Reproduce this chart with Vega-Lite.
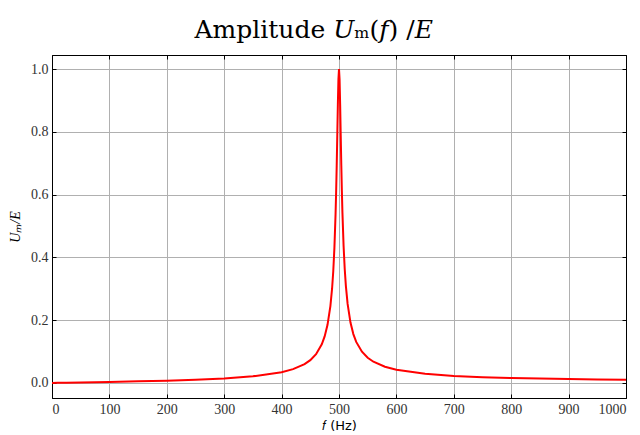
{
  "$schema": "https://vega.github.io/schema/vega-lite/v6.json",
  "autosize": {"type": "none"},
  "width": 574,
  "height": 343,
  "padding": {"left": 52, "top": 55, "right": 14, "bottom": 37},
  "background": "white",
  "title": {"text": "Amplitude 𝑈ₘ(𝑓) /𝐸", "font": "DejaVu Serif", "fontSize": 25, "fontWeight": "normal", "color": "black", "offset": 12, "anchor": "start", "dx": 186},
  "config": {
    "view": {"stroke": "black", "strokeWidth": 1},
    "axis": {"labelFont": "Liberation Serif", "labelFontSize": 14, "labelColor": "#333", "titleFont": "Liberation Serif", "titleFontWeight": "normal", "titleFontSize": 14, "titleColor": "black", "gridColor": "#b0b0b0", "gridWidth": 1, "domainColor": "black", "tickColor": "black", "tickSize": -4, "labelPadding": 8}
  },
  "data": {"values": [
    {"f": 0, "u": 0},
    {"f": 10, "u": 0.000308},
    {"f": 25, "u": 0.000771},
    {"f": 50, "u": 0.001554},
    {"f": 100, "u": 0.003205},
    {"f": 150, "u": 0.005072},
    {"f": 200, "u": 0.007326},
    {"f": 250, "u": 0.010256},
    {"f": 300, "u": 0.014422},
    {"f": 350, "u": 0.021111},
    {"f": 400, "u": 0.034168},
    {"f": 420, "u": 0.043854},
    {"f": 440, "u": 0.059901},
    {"f": 450, "u": 0.07268},
    {"f": 460, "u": 0.09176},
    {"f": 470, "u": 0.12329},
    {"f": 475, "u": 0.14824},
    {"f": 480, "u": 0.18512},
    {"f": 485, "u": 0.24482},
    {"f": 488, "u": 0.30185},
    {"f": 490, "u": 0.35582},
    {"f": 492, "u": 0.43045},
    {"f": 494, "u": 0.53735},
    {"f": 495, "u": 0.60778},
    {"f": 496, "u": 0.69165},
    {"f": 497, "u": 0.7876},
    {"f": 498, "u": 0.88684},
    {"f": 499, "u": 0.96776},
    {"f": 500, "u": 1.0},
    {"f": 501, "u": 0.96789},
    {"f": 502, "u": 0.8876},
    {"f": 503, "u": 0.7894},
    {"f": 504, "u": 0.69453},
    {"f": 505, "u": 0.61161},
    {"f": 506, "u": 0.54194},
    {"f": 508, "u": 0.43608},
    {"f": 510, "u": 0.36207},
    {"f": 512, "u": 0.3085},
    {"f": 515, "u": 0.25182},
    {"f": 520, "u": 0.19241},
    {"f": 525, "u": 0.15568},
    {"f": 530, "u": 0.13081},
    {"f": 540, "u": 0.09936},
    {"f": 550, "u": 0.08033},
    {"f": 560, "u": 0.06758},
    {"f": 580, "u": 0.05157},
    {"f": 600, "u": 0.04192},
    {"f": 650, "u": 0.02897},
    {"f": 700, "u": 0.02243},
    {"f": 750, "u": 0.01846},
    {"f": 800, "u": 0.01578},
    {"f": 850, "u": 0.01384},
    {"f": 900, "u": 0.01236},
    {"f": 950, "u": 0.0112},
    {"f": 1000, "u": 0.01026}
  ]},
  "layer": [
    {
      "mark": {"type": "line", "color": "#ff0000", "strokeWidth": 2, "clip": true},
      "encoding": {
        "x": {"field": "f", "type": "quantitative", "scale": {"domain": [0, 1000], "nice": false, "zero": false},
              "axis": {"orient": "bottom", "values": [0,100,200,300,400,500,600,700,800,900,1000], "format": "d", "title": "𝑓 (Hz)", "titleFont": "DejaVu Sans", "titleFontSize": 13, "titlePadding": 3}},
        "y": {"field": "u", "type": "quantitative", "scale": {"domain": [-0.048, 1.045], "nice": false, "zero": false},
              "axis": {"orient": "left", "values": [0, 0.2, 0.4, 0.6, 0.8, 1.0], "format": ".1f", "title": "Uₘ/E", "titleFontStyle": "italic", "titlePadding": 8}}
      }
    },
    {
      "mark": {"type": "line", "opacity": 0},
      "encoding": {
        "x": {"field": "f", "type": "quantitative", "axis": {"orient": "top", "values": [0,100,200,300,400,500,600,700,800,900,1000], "labels": false, "grid": false, "title": null}},
        "y": {"field": "u", "type": "quantitative", "axis": {"orient": "right", "values": [0, 0.2, 0.4, 0.6, 0.8, 1.0], "labels": false, "grid": false, "title": null}}
      }
    }
  ],
  "resolve": {"axis": {"x": "independent", "y": "independent"}}
}
